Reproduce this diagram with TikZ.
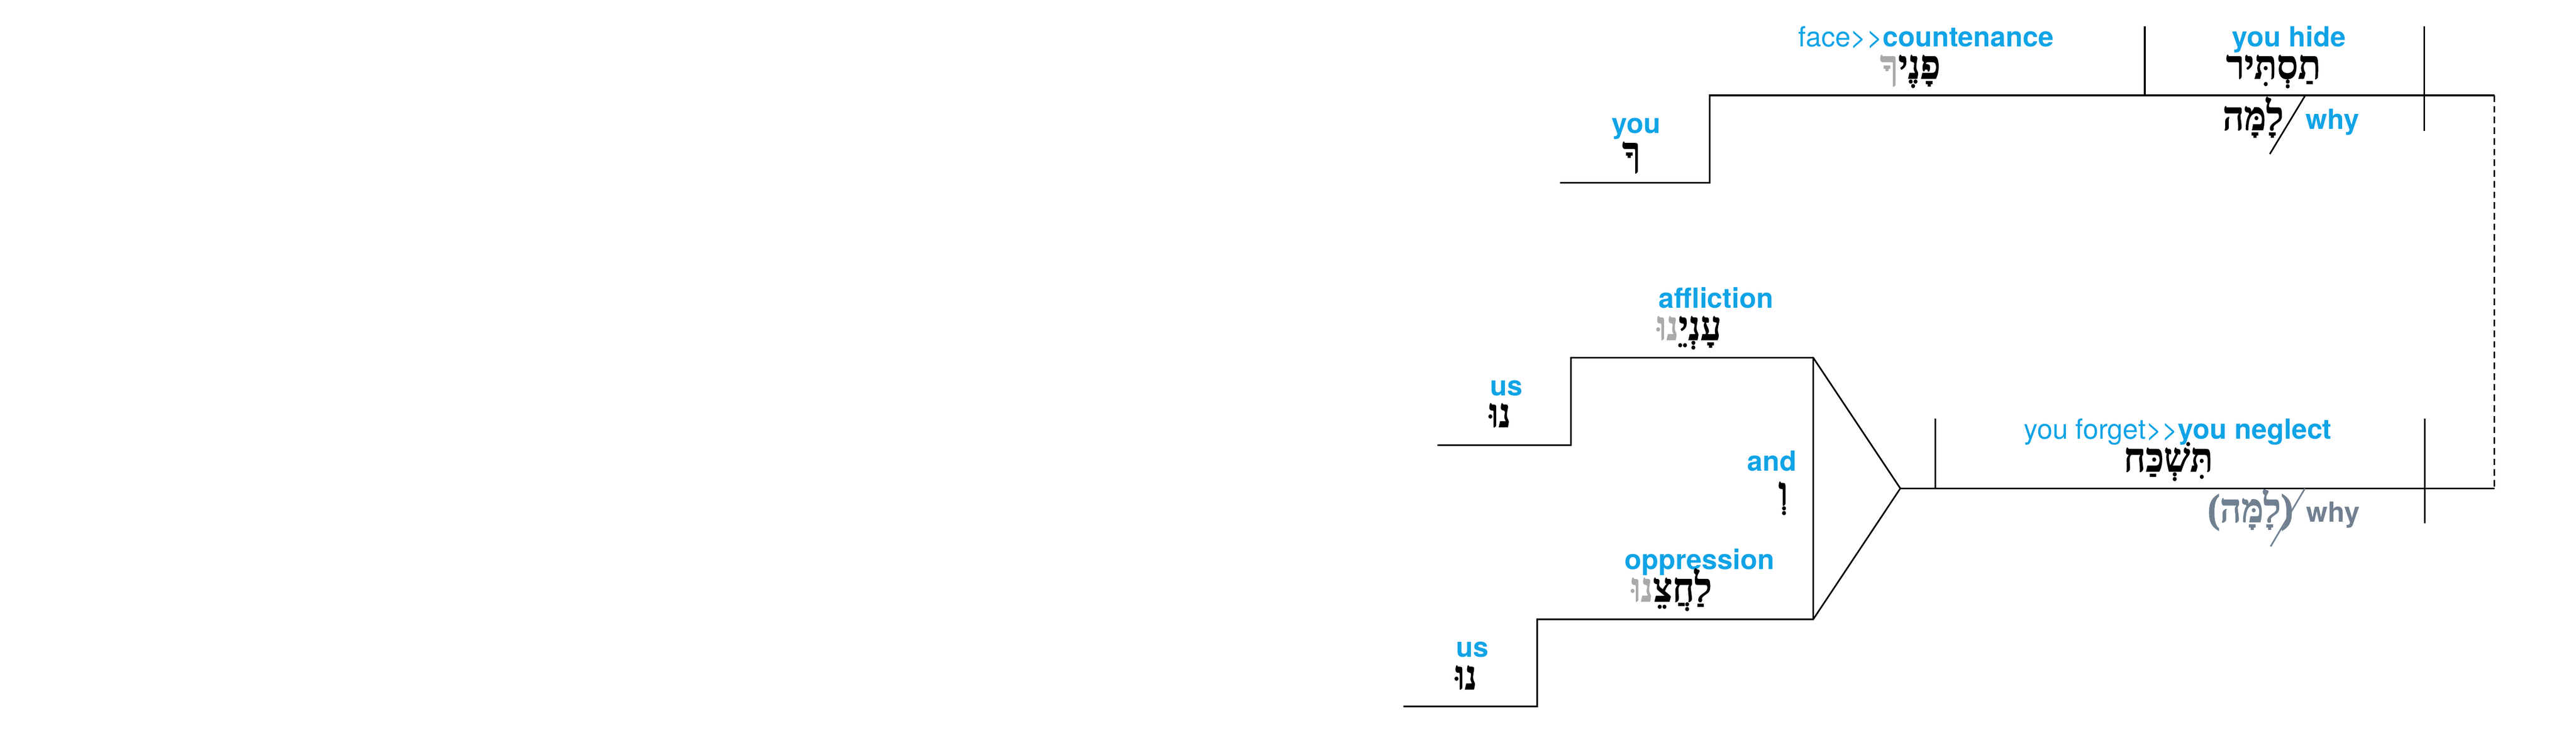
\documentclass[tikz,border=0pt]{standalone}
\usepackage{fontspec}
\usepackage{tikz}
\usetikzlibrary{positioning}
\setmainfont{TeX Gyre Heros}
\newfontfamily\hebfont[Script=Hebrew, FakeStretch=0.92, FakeBold=1.2]{Liberation Serif}
\TeXXeTstate=1
\definecolor{glossblue}{RGB}{16,163,230}
\definecolor{sfxgrey}{RGB}{170,170,170}
\definecolor{slate}{RGB}{112,128,144}
\tikzstyle{gloss} = [anchor=base, inner sep=0pt, text=glossblue, font=\fontsize{9.6}{11}\selectfont\bfseries]
\tikzstyle{heb} = [anchor=base, inner sep=0pt, font=\hebfont\bfseries\fontsize{14}{16}\selectfont]
\tikzstyle{line} = [draw, line width=0.55pt]
\tikzstyle{dline} = [draw, line width=0.55pt, dash pattern=on 0.8mm off 0.5mm]
\newcommand{\gt}{>\kern0pt>}

\begin{document}
\begin{tikzpicture}[x=0.2mm, y=-0.2mm]
			\useasboundingbox (0,0) rectangle (1568,454.4);

			% top clause
			\coordinate (yL) at (949.7,111.2);
			\coordinate (yR) at (1040.6,111.2);
			\coordinate (fL) at (1040.6,58);
			\coordinate (mR) at (1518.4,58);
			\coordinate (d1t) at (1305.5,16);
			\coordinate (d1b) at (1305.5,58);
			\coordinate (d2t) at (1475.6,16);
			\coordinate (d2b) at (1475.6,79.6);
			\coordinate (w1t) at (1403.2,58);
			\coordinate (w1b) at (1381.6,93.7);

			% lower clause
			\coordinate (apex) at (1156.7,297.1);
			\coordinate (lR) at (1518.4,297.1);
			\coordinate (d3t) at (1178,254.7);
			\coordinate (d3b) at (1178,297.1);
			\coordinate (d4t) at (1475.8,254.7);
			\coordinate (d4b) at (1475.8,318.2);
			\coordinate (w2t) at (1403,297.1);
			\coordinate (w2b) at (1382.1,332.4);

			% compound object
			\coordinate (aR) at (1103.7,217.6);
			\coordinate (aL) at (956.2,217.6);
			\coordinate (a1) at (956.2,270.8);
			\coordinate (a0) at (875,270.8);
			\coordinate (oR) at (1103.7,376.7);
			\coordinate (oL) at (935.7,376.7);
			\coordinate (o1) at (935.7,429.7);
			\coordinate (o0) at (854.3,429.7);

			% one word per node, split words typed left to right as seen
			\node [gloss] (g-you) at (995.9,81.2) {you};
			\node [heb] (you) at (993,100.7) {ךָ};
			\node [gloss] (g-face) at (1172.4,28.3) {{\mdseries face\gt}countenance};
			\node [heb] (face) at (1162.7,47.9) {\textcolor{sfxgrey}{ךָ}פָנֶי};
			\node [gloss] (g-hide) at (1393.3,28.3) {you hide};
			\node [heb] (hide) at (1383.8,47.9) {תַסְתִּיר};
			\node [heb, anchor=base east] (why1) at (1390.3,79.1) {לָמָּה};
			\node [gloss, anchor=base west] (g-why1) at (1403.2,78.7) {why};

			\node [gloss] (g-forget) at (1325.6,267) {{\mdseries you forget\gt}you neglect};
			\node [heb] (forget) at (1319.8,286.8) {תִּשְׁכַּח};
			\node [heb, anchor=base east, text=slate] (why2) at (1396.2,317.6) {(לָמָּה)};
			\node [gloss, anchor=base west, text=slate] (g-why2) at (1403.4,317.6) {why};

			\node [gloss] (g-affl) at (1044.6,187.4) {affliction};
			\node [heb] (affl) at (1028.2,206.8) {\textcolor{sfxgrey}{נוּ}עָנְיֵ};
			\node [gloss] (g-us1) at (917,240.6) {us};
			\node [heb] (us1) at (913,259.8) {נוּ};
			\node [gloss, anchor=base east] (g-and) at (1094,286.6) {and};
			\node [heb] (and) at (1085.4,307.5) {וְ};
			\node [gloss] (g-opp) at (1034.5,346.5) {oppression};
			\node [heb] (opp) at (1017.5,365.9) {\textcolor{sfxgrey}{נוּ}לַחֲצֵ};
			\node [gloss] (g-us2) at (896.2,399.7) {us};
			\node [heb] (us2) at (892.4,419.3) {נוּ};

			\path [line] (yL) -- (yR) -- (fL) -- (mR);
			\path [line] (d1t) -- (d1b);
			\path [line] (d2t) -- (d2b);
			\path [line] (w1t) -- (w1b);
			\path [dline] (mR) -- (lR);
			\path [line] (apex) -- (lR);
			\path [line] (d3t) -- (d3b);
			\path [line] (d4t) -- (d4b);
			\path [line, slate] (w2t) -- (w2b);
			\path [line] (a0) -- (a1) -- (aL) -- (aR) -- (apex) -- (oR) -- (oL) -- (o1) -- (o0);
			\path [line] (aR) -- (oR);
		\end{tikzpicture}
\end{document}
